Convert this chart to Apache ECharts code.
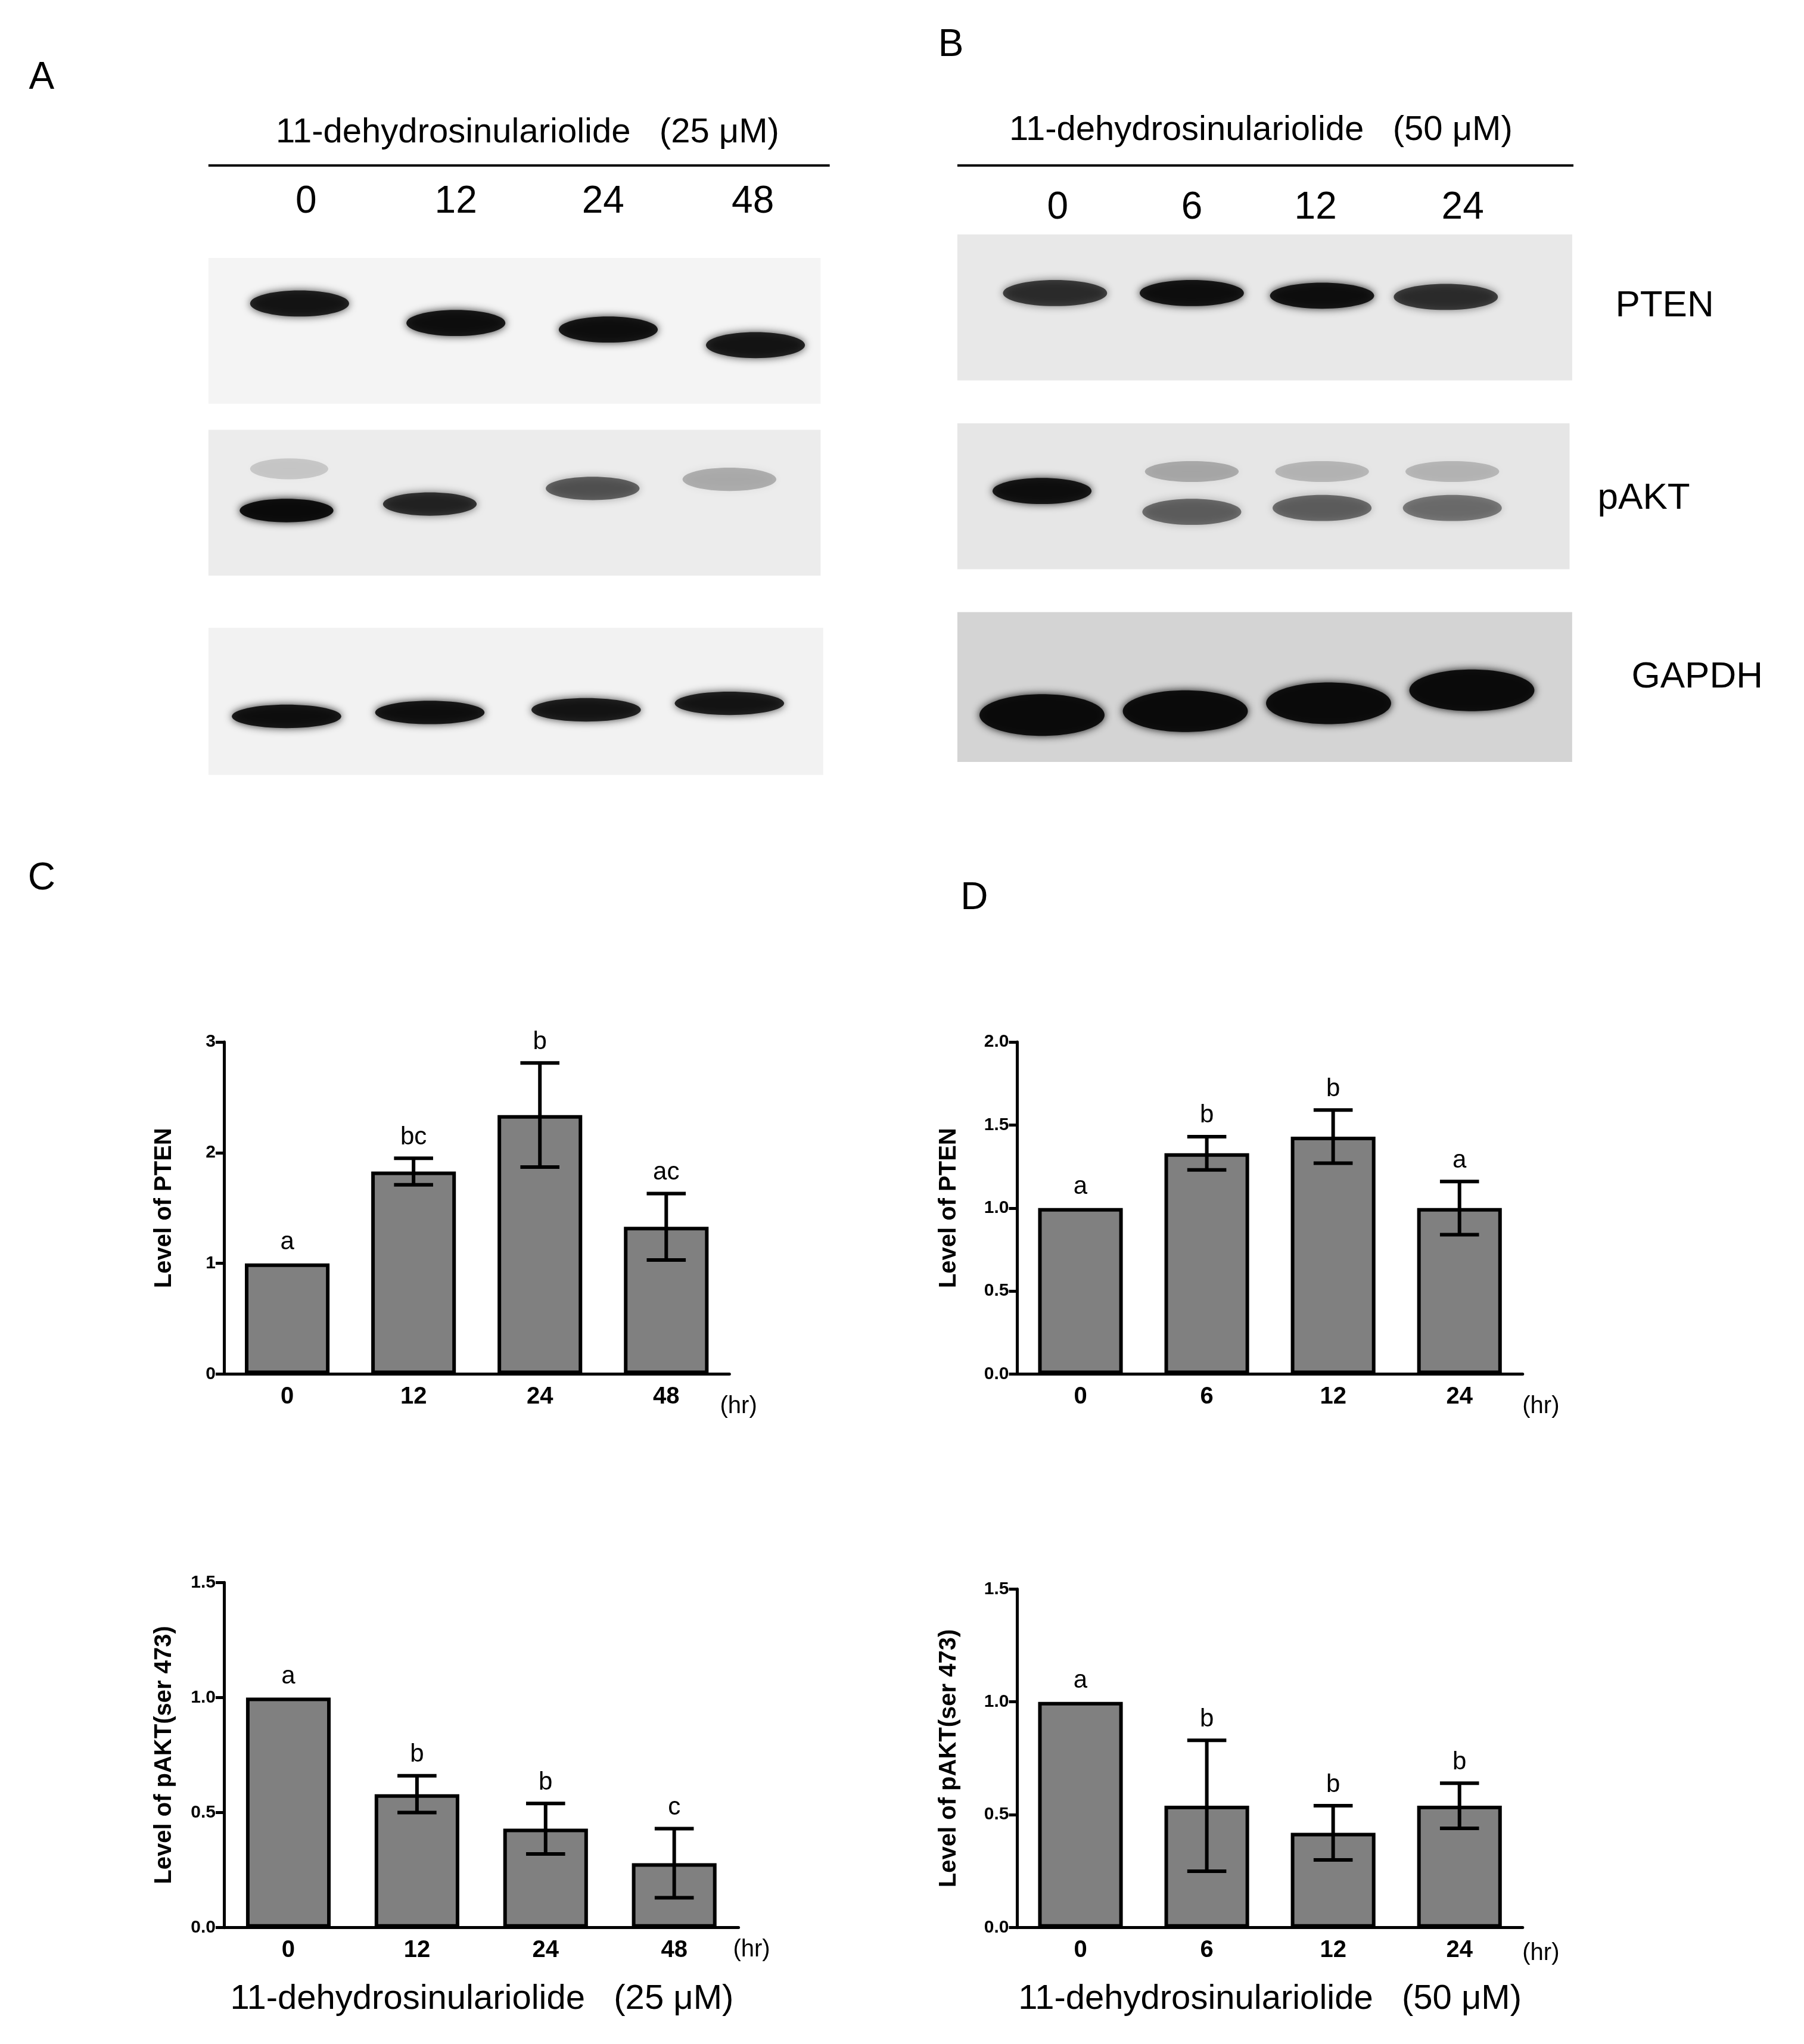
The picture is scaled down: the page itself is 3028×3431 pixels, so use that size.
<!DOCTYPE html>
<html><head><meta charset="utf-8">
<script src="https://cdn.jsdelivr.net/npm/echarts@6/dist/echarts.min.js"></script>
<style>html,body{margin:0;background:#fff}#c{width:3028px;height:3431px}</style>
</head><body><div id="c"></div>
<script>
const S = 3028/1385;
const catsC = ['0','12','24','48'];
const catsD = ['0','6','12','24'];
const ptenC = [1.0, 1.83, 2.34, 1.33];
const ptenCErr = [0, 0.12, 0.47, 0.30];
const ptenCLet = ['a','bc','b','ac'];
const ptenD = [1.0, 1.33, 1.43, 1.0];
const ptenDErr = [0, 0.10, 0.16, 0.16];
const ptenDLet = ['a','b','b','a'];
const aktC = [1.0, 0.58, 0.43, 0.28];
const aktCErr = [0, 0.08, 0.11, 0.15];
const aktCLet = ['a','b','b','c'];
const aktD = [1.0, 0.54, 0.42, 0.54];
const aktDErr = [0, 0.29, 0.12, 0.10];
const aktDLet = ['a','b','b','b'];
const ptenCTicks = [0,1,2,3];
const ptenDTicks = [0,0.5,1.0,1.5,2.0];
const aktTicks = [0,0.5,1.0,1.5];

const FF = 'Liberation Sans, Arial, sans-serif';
const panels = [
 {x:172,y:800,w:388,h:255,cats:catsC,v:ptenC,e:ptenCErr,l:ptenCLet,max:3,interval:1,dec:0,name:'Level of PTEN'},
 {x:781,y:800,w:388,h:255,cats:catsD,v:ptenD,e:ptenDErr,l:ptenDLet,max:2,interval:0.5,dec:1,name:'Level of PTEN'},
 {x:172,y:1215,w:395,h:265,cats:catsC,v:aktC,e:aktCErr,l:aktCLet,max:1.5,interval:0.5,dec:1,name:'Level of pAKT(ser 473)'},
 {x:781,y:1220,w:388,h:260,cats:catsD,v:aktD,e:aktDErr,l:aktDLet,max:1.5,interval:0.5,dec:1,name:'Level of pAKT(ser 473)'}
];
const grid=[],xAxis=[],yAxis=[],series=[];
panels.forEach((p,i)=>{
  grid.push({left:p.x*S,top:p.y*S,width:p.w*S,height:p.h*S});
  xAxis.push({type:'category',gridIndex:i,data:p.cats,axisLine:{lineStyle:{color:'#000',width:5}},
    axisTick:{alignWithLabel:true,length:14,lineStyle:{width:5,color:'#000'}},
    axisLabel:{color:'#000',fontSize:40,fontWeight:'bold',fontFamily:FF,margin:18}});
  yAxis.push({type:'value',gridIndex:i,min:0,max:p.max,interval:p.interval,splitLine:{show:false},
    axisLine:{show:true,lineStyle:{color:'#000',width:5}},axisTick:{show:true,length:14,lineStyle:{width:5,color:'#000'}},
    axisLabel:{color:'#000',fontSize:30,fontWeight:'bold',fontFamily:FF,margin:14,formatter:v=>v.toFixed(p.dec)},
    name:p.name,nameLocation:'middle',nameGap:i%2===1?95:80,nameTextStyle:{color:'#000',fontSize:40,fontWeight:'bold',fontFamily:FF}});
  series.push({type:'bar',xAxisIndex:i,yAxisIndex:i,data:p.v,barWidth:65*S,
    itemStyle:{color:'#808080',borderColor:'#000',borderWidth:6},silent:true});
  series.push({type:'custom',xAxisIndex:i,yAxisIndex:i,data:p.v.map((v,k)=>[k,v,p.e[k]]),z:10,
    renderItem:(params,api)=>{
      const k=api.value(0),v=api.value(1),e=api.value(2);
      const top=api.coord([k,v+e]),bot=api.coord([k,v-e]);
      const cw=30*S,ch=[];
      if(e>0){
        const st={stroke:'#000',lineWidth:6};
        ch.push({type:'line',shape:{x1:top[0],y1:top[1],x2:bot[0],y2:bot[1]},style:st});
        ch.push({type:'line',shape:{x1:top[0]-cw/2,y1:top[1],x2:top[0]+cw/2,y2:top[1]},style:st});
        ch.push({type:'line',shape:{x1:bot[0]-cw/2,y1:bot[1],x2:bot[0]+cw/2,y2:bot[1]},style:st});
      }
      ch.push({type:'text',style:{text:p.l[k],x:top[0],y:top[1]-14,textAlign:'center',textVerticalAlign:'bottom',fontSize:42,fontFamily:FF,fill:'#000'}});
      return {type:'group',children:ch};
    }});
});

const G=[];
function txt(t,x,y,fs,align){G.push({type:'text',left:null,x:x*S,y:y*S,style:{text:t,fontSize:fs,fontFamily:FF,fill:'#000',textAlign:align||'center',textVerticalAlign:'middle'}});}
txt('A',32,60,64);txt('B',730,35,64);txt('C',32,675,64);txt('D',748,690,64);
txt('11-dehydrosinulariolide   (25 μM)',405,102,58);
txt('11-dehydrosinulariolide   (50 μM)',968,100,58);
G.push({type:'line',shape:{x1:160*S,y1:127*S,x2:637*S,y2:127*S},style:{stroke:'#000',lineWidth:4}});
G.push({type:'line',shape:{x1:735*S,y1:127*S,x2:1208*S,y2:127*S},style:{stroke:'#000',lineWidth:4}});
[['0',235],['12',350],['24',463],['48',578]].forEach(a=>txt(a[0],a[1],155,64));
[['0',812],['6',915],['12',1010],['24',1123]].forEach(a=>txt(a[0],a[1],160,64));
txt('PTEN',1278,235,62);txt('pAKT',1262,383,62);txt('GAPDH',1303,520,62);
txt('(hr)',567,1080,40);txt('(hr)',1183,1080,40);txt('(hr)',577,1497,40);txt('(hr)',1183,1500,40);
txt('11-dehydrosinulariolide   (25 μM)',370,1535,58);
txt('11-dehydrosinulariolide   (50 μM)',975,1535,58);

// western blot approximations
function box(x1,y1,x2,y2,fill){G.push({type:'rect',shape:{x:x1*S,y:y1*S,width:(x2-x1)*S,height:(y2-y1)*S},style:{fill:fill}});}
function band(cx,cy,rx,ry,a){G.push({type:'ellipse',shape:{cx:cx*S,cy:cy*S,rx:rx*S,ry:ry*S},style:{fill:'rgba(10,10,10,'+a+')',shadowBlur:14,shadowColor:'rgba(0,0,0,'+a+')'}});}
box(160,198,630,310,'#f4f4f4');box(160,330,630,442,'#ececec');box(160,482,632,595,'#f2f2f2');
box(735,180,1207,292,'#e8e8e8');box(735,325,1205,437,'#e6e6e6');box(735,470,1207,585,'#d4d4d4');
[[230,233,0.85],[350,248,0.9],[467,253,0.9],[580,265,0.85]].forEach(b=>band(b[0],b[1],38,10,b[2]));
[[220,392,0.95],[330,387,0.75],[455,375,0.55],[560,368,0.25]].forEach(b=>band(b[0],b[1],36,9,b[2]));
[[220,410,0],[222,360,0.15]].forEach(b=>band(b[0],b[1],30,8,b[2]));
[[220,550,0.9],[330,547,0.9],[450,545,0.85],[560,540,0.85]].forEach(b=>band(b[0],b[1],42,9,b[2]));
[[810,225,0.7],[915,225,0.9],[1015,227,0.9],[1110,228,0.7]].forEach(b=>band(b[0],b[1],40,10,b[2]));
[[800,377,0.9],[915,393,0.5],[1015,390,0.5],[1115,390,0.45]].forEach(b=>band(b[0],b[1],38,10,b[2]));
[[915,362,0.25],[1015,362,0.2],[1115,362,0.2]].forEach(b=>band(b[0],b[1],36,8,b[2]));
[[800,549,0.95],[910,546,0.95],[1020,540,0.95],[1130,530,0.95]].forEach(b=>band(b[0],b[1],48,16,b[2]));

const chart=echarts.init(document.getElementById('c'));
chart.setOption({backgroundColor:'#fff',animation:false,grid,xAxis,yAxis,series,graphic:G});
</script></body></html>
